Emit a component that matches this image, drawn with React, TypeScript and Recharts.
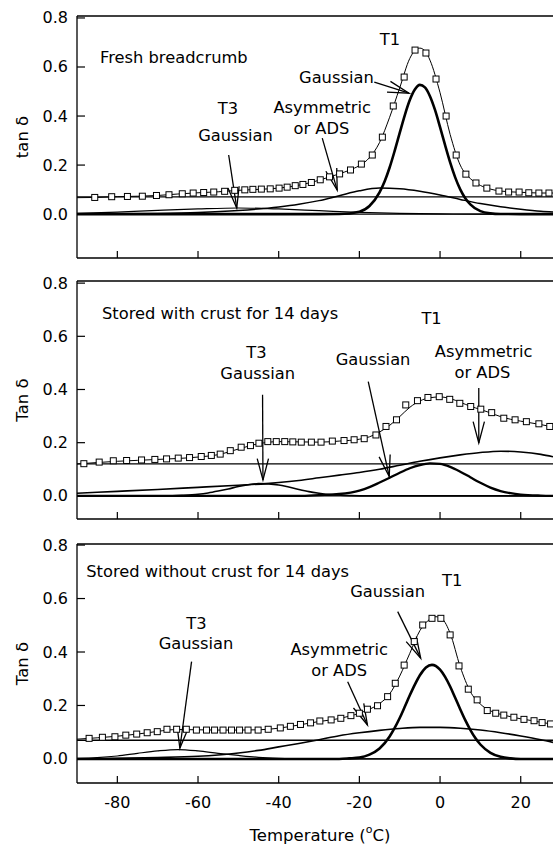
import React from 'react';
import { LineChart, Line, XAxis, YAxis, ReferenceLine, ReferenceDot } from 'recharts';

const FONT = '"DejaVu Sans", "Liberation Sans", Arial, sans-serif';

const xTicks = [-80, -60, -40, -20, 0, 20];
const yTicks = [0, 0.2, 0.4, 0.6, 0.8];

// ---------- Panel 1: Fresh breadcrumb ----------
const p1Data = [
  [-85.6, 0.068], [-81.4, 0.071], [-77.5, 0.072], [-73.8, 0.073], [-70.3, 0.076], [-67.2, 0.079],
  [-63.9, 0.083], [-61.2, 0.086], [-58.6, 0.088], [-56.1, 0.09], [-53.4, 0.093], [-50.9, 0.097],
  [-48.4, 0.099], [-46.4, 0.101], [-44.3, 0.102], [-42.1, 0.103], [-39.9, 0.106], [-37.9, 0.11],
  [-35.9, 0.116], [-34.0, 0.121], [-31.9, 0.129], [-29.7, 0.14], [-27.4, 0.152], [-24.9, 0.164],
  [-22.2, 0.18], [-19.5, 0.204], [-16.8, 0.241], [-14.3, 0.314], [-11.6, 0.441], [-8.9, 0.559],
  [-6.2, 0.669], [-3.5, 0.657], [-1.0, 0.551], [1.5, 0.4], [4.0, 0.241], [6.4, 0.163], [8.9, 0.127],
  [11.6, 0.106], [14.6, 0.094], [17.0, 0.09], [19.6, 0.09], [22.0, 0.087], [24.5, 0.086], [27.0, 0.086],
];
const p1Fit = [
  [-90, 0.067], [-85, 0.068], [-80, 0.071], [-75, 0.073], [-70, 0.076], [-65, 0.082], [-60, 0.087],
  [-55, 0.091], [-50, 0.097], [-45, 0.101], [-40, 0.106], [-37.5, 0.111], [-35, 0.118], [-32.5, 0.127],
  [-30, 0.138], [-27.5, 0.151], [-25, 0.164], [-22.5, 0.179], [-20, 0.198], [-17.5, 0.23], [-15, 0.292],
  [-12.5, 0.395], [-10, 0.515], [-7.5, 0.635], [-6.25, 0.667], [-5, 0.677], [-3.75, 0.666], [-2.5, 0.628],
  [0, 0.495], [2.5, 0.325], [5, 0.2], [7.5, 0.145], [10, 0.117], [12.5, 0.102], [15, 0.094], [20, 0.089],
  [25, 0.086], [28, 0.086],
];
const p1T3 = [
  [-90, 0.003], [-80, 0.008], [-70, 0.015], [-60, 0.021], [-50, 0.025], [-40, 0.021], [-30, 0.014],
  [-20, 0.007], [-10, 0.003], [0, 0.001], [10, 0], [28, 0],
];
const p1Ads = [
  [-90, 0], [-80, 0.001], [-70, 0.003], [-60, 0.007], [-50, 0.015], [-40, 0.029], [-35, 0.04],
  [-30, 0.055], [-25, 0.075], [-20, 0.095], [-15, 0.106], [-10, 0.103], [-5, 0.093], [0, 0.078],
  [5, 0.06], [10, 0.043], [15, 0.03], [20, 0.02], [25, 0.012], [28, 0.009],
];
const p1T1 = [
  [-90, 0], [-30, 0], [-25, 0.0005], [-20, 0.01], [-17.5, 0.033], [-15, 0.089], [-13.75, 0.133],
  [-12.5, 0.19], [-11.25, 0.258], [-10, 0.331], [-8.75, 0.403], [-7.5, 0.465], [-6.25, 0.508],
  [-5, 0.527], [-3.75, 0.517], [-2.5, 0.481], [-1.25, 0.425], [0, 0.355], [1.25, 0.281], [2.5, 0.211],
  [3.75, 0.15], [5, 0.101], [6.25, 0.065], [7.5, 0.04], [10, 0.012], [12.5, 0.003], [15, 0.0006],
  [20, 0], [28, 0],
];
const p1Base = 0.07;

// ---------- Panel 2: Stored with crust ----------
const p2Data = [
  [-88.3, 0.121], [-84.5, 0.127], [-81.0, 0.132], [-77.7, 0.133], [-74.0, 0.135], [-70.7, 0.137],
  [-67.8, 0.139], [-64.9, 0.142], [-62.1, 0.144], [-59.2, 0.148], [-56.7, 0.152], [-54.5, 0.157],
  [-52.0, 0.17], [-49.3, 0.183], [-47.0, 0.189], [-44.9, 0.198], [-42.7, 0.204], [-40.6, 0.204],
  [-38.5, 0.204], [-36.5, 0.203], [-34.4, 0.202], [-31.9, 0.202], [-29.5, 0.202], [-26.7, 0.206],
  [-23.8, 0.208], [-21.3, 0.211], [-18.8, 0.215], [-15.9, 0.229], [-13.4, 0.261], [-10.8, 0.286],
  [-8.5, 0.342], [-5.6, 0.358], [-3.0, 0.37], [-0.2, 0.373], [2.4, 0.363], [4.9, 0.348], [7.6, 0.336],
  [10.1, 0.326], [12.8, 0.313], [15.8, 0.292], [18.6, 0.286], [21.4, 0.279], [24.5, 0.271], [27.2, 0.261],
];
const p2Fit = [
  [-90, 0.12], [-80, 0.13], [-70, 0.137], [-60, 0.146], [-55, 0.155], [-50, 0.176], [-45, 0.196],
  [-40, 0.204], [-35, 0.203], [-30, 0.202], [-25, 0.206], [-20, 0.213], [-17.5, 0.222], [-15, 0.24],
  [-12.5, 0.265], [-10, 0.298], [-7.5, 0.333], [-5, 0.357], [-2.5, 0.369], [0, 0.372], [2.5, 0.366],
  [5, 0.352], [7.5, 0.337], [10, 0.325], [12.5, 0.312], [15, 0.298], [17.5, 0.288], [20, 0.281],
  [25, 0.268], [28, 0.259],
];
const p2T3 = [
  [-90, 0], [-68, 0], [-64, 0.002], [-60, 0.006], [-57.5, 0.011], [-55, 0.018], [-52.5, 0.026],
  [-50, 0.035], [-47.5, 0.042], [-45, 0.046], [-42.5, 0.045], [-40, 0.041], [-37.5, 0.033], [-35, 0.024],
  [-32.5, 0.016], [-30, 0.01], [-27.5, 0.005], [-25, 0.003], [-22, 0.001], [-18, 0], [28, 0],
];
const p2Ads = [
  [-90, 0.01], [-80, 0.017], [-70, 0.024], [-60, 0.032], [-50, 0.04], [-43, 0.046], [-40, 0.05],
  [-35, 0.058], [-30, 0.068], [-25, 0.078], [-20, 0.088], [-15, 0.1], [-10, 0.115], [-5, 0.13],
  [0, 0.143], [5, 0.154], [10, 0.163], [15, 0.168], [20, 0.165], [25, 0.156], [28, 0.147],
];
const p2T1 = [
  [-90, 0], [-35, 0], [-30, 0.003], [-25, 0.007], [-20, 0.02], [-17.5, 0.033], [-15, 0.05],
  [-12.5, 0.068], [-10, 0.087], [-7.5, 0.104], [-5, 0.116], [-2.5, 0.122], [0, 0.12], [2.5, 0.109],
  [5, 0.091], [7.5, 0.07], [10, 0.049], [12.5, 0.031], [15, 0.018], [17.5, 0.01], [20, 0.005],
  [25, 0.001], [28, 0],
];
const p2Base = 0.12;

// ---------- Panel 3: Stored without crust ----------
const p3Data = [
  [-87.0, 0.077], [-83.7, 0.081], [-80.6, 0.083], [-77.9, 0.089], [-75.2, 0.093], [-72.6, 0.098],
  [-70.1, 0.102], [-67.7, 0.111], [-65.3, 0.111], [-62.9, 0.111], [-60.4, 0.108], [-57.9, 0.108],
  [-55.9, 0.108], [-53.8, 0.108], [-51.7, 0.108], [-49.7, 0.108], [-47.6, 0.108], [-45.1, 0.108],
  [-42.6, 0.111], [-39.6, 0.116], [-37.1, 0.122], [-34.6, 0.129], [-32.1, 0.135], [-29.8, 0.142],
  [-27.0, 0.146], [-24.6, 0.152], [-22.1, 0.162], [-20.0, 0.171], [-18.0, 0.186], [-15.5, 0.199],
  [-13.0, 0.233], [-11.1, 0.283], [-8.9, 0.351], [-6.4, 0.439], [-4.3, 0.501], [-2.0, 0.526],
  [0.2, 0.526], [2.5, 0.464], [4.7, 0.348], [7.0, 0.261], [9.2, 0.221], [11.7, 0.181], [13.8, 0.171],
  [15.8, 0.164], [18.3, 0.156], [20.8, 0.148], [23.3, 0.143], [25.3, 0.136], [27.4, 0.131],
];
const p3Fit = [
  [-90, 0.074], [-85, 0.079], [-80, 0.085], [-75, 0.093], [-70, 0.103], [-67.5, 0.108], [-65, 0.11],
  [-60, 0.109], [-55, 0.108], [-50, 0.108], [-45, 0.109], [-42.5, 0.111], [-40, 0.115], [-35, 0.127],
  [-30, 0.14], [-25, 0.151], [-22.5, 0.16], [-20, 0.171], [-17.5, 0.186], [-15, 0.207], [-12.5, 0.243],
  [-10, 0.31], [-7.5, 0.395], [-5, 0.48], [-2.5, 0.523], [-1, 0.532], [0.5, 0.524], [2.5, 0.47],
  [5, 0.345], [7.5, 0.252], [10, 0.205], [12.5, 0.18], [15, 0.167], [17.5, 0.158], [20, 0.15],
  [22.5, 0.144], [25, 0.137], [28, 0.13],
];
const p3T3 = [
  [-90, 0.002], [-85, 0.005], [-80, 0.011], [-75, 0.021], [-70, 0.03], [-65, 0.035], [-60, 0.03],
  [-55, 0.021], [-50, 0.013], [-45, 0.006], [-40, 0.002], [-35, 0], [28, 0],
];
const p3Ads = [
  [-90, 0], [-80, 0.002], [-70, 0.005], [-60, 0.01], [-55, 0.015], [-50, 0.022], [-45, 0.032],
  [-40, 0.045], [-35, 0.058], [-30, 0.072], [-25, 0.087], [-20, 0.098], [-15, 0.107], [-10, 0.114],
  [-5, 0.118], [0, 0.118], [5, 0.115], [10, 0.108], [15, 0.098], [20, 0.086], [25, 0.072], [28, 0.062],
];
const p3T1 = [
  [-90, 0], [-25, 0], [-22.5, 0.002], [-20, 0.005], [-17.5, 0.016], [-15, 0.039], [-12.5, 0.084],
  [-11.25, 0.116], [-10, 0.153], [-8.75, 0.195], [-7.5, 0.238], [-6.25, 0.278], [-5, 0.313],
  [-3.5, 0.342], [-2, 0.352], [0, 0.334], [1.25, 0.307], [2.5, 0.271], [3.75, 0.229], [5, 0.186],
  [6.25, 0.145], [7.5, 0.109], [8.75, 0.078], [10, 0.054], [12.5, 0.023], [15, 0.008], [17.5, 0.002],
  [20, 0], [28, 0],
];
const p3Base = 0.07;

// ---------- types & config ----------
type Ann = { t: number; v: number; text: string; anchor?: 'start' | 'middle' };
type Arrow = { from: [number, number]; to: [number, number] };
type Cfg = {
  top: number;
  bottom: number;
  yDomain: [number, number];
  yLabel: string;
  showXLabels: boolean;
  data: number[][];
  fit: number[][];
  t3: number[][];
  ads: number[][];
  t1: number[][];
  baseline: number;
  widths: { t3: number; ads: number; t1: number };
  texts: Ann[];
  arrows: Arrow[];
};

const panels: Cfg[] = [
  {
    top: 16, bottom: 258, yDomain: [-0.179, 0.808], yLabel: 'tan δ', showXLabels: false,
    data: p1Data, fit: p1Fit, t3: p1T3, ads: p1Ads, t1: p1T1, baseline: p1Base,
    widths: { t3: 1.2, ads: 1.5, t1: 2.6 },
    texts: [
      { t: -84.3, v: 0.639, text: 'Fresh breadcrumb', anchor: 'start' },
      { t: -12.4, v: 0.714, text: 'T1' },
      { t: -25.7, v: 0.559, text: 'Gaussian' },
      { t: -29.2, v: 0.436, text: 'Asymmetric' },
      { t: -29.4, v: 0.351, text: 'or ADS' },
      { t: -52.6, v: 0.432, text: 'T3' },
      { t: -50.7, v: 0.322, text: 'Gaussian' },
    ],
    arrows: [
      { from: [-16.3, 0.538], to: [-7.7, 0.493] },
      { from: [-29.2, 0.31], to: [-25.5, 0.098] },
      { from: [-52.4, 0.241], to: [-50.4, 0.0245] },
    ],
  },
  {
    top: 281, bottom: 519, yDomain: [-0.087, 0.808], yLabel: 'Tan δ', showXLabels: false,
    data: p2Data, fit: p2Fit, t3: p2T3, ads: p2Ads, t1: p2T1, baseline: p2Base,
    widths: { t3: 1.6, ads: 1.6, t1: 2.3 },
    texts: [
      { t: -83.8, v: 0.686, text: 'Stored with crust for 14 days', anchor: 'start' },
      { t: -2.1, v: 0.666, text: 'T1' },
      { t: 10.8, v: 0.543, text: 'Asymmetric' },
      { t: 10.5, v: 0.464, text: 'or ADS' },
      { t: -16.6, v: 0.511, text: 'Gaussian' },
      { t: -45.5, v: 0.54, text: 'T3' },
      { t: -45.2, v: 0.461, text: 'Gaussian' },
    ],
    arrows: [
      { from: [9.6, 0.406], to: [9.6, 0.199] },
      { from: [-17.8, 0.43], to: [-12.6, 0.073] },
      { from: [-44, 0.38], to: [-43.9, 0.06] },
    ],
  },
  {
    top: 544, bottom: 783, yDomain: [-0.09, 0.804], yLabel: 'Tan δ', showXLabels: true,
    data: p3Data, fit: p3Fit, t3: p3T3, ads: p3Ads, t1: p3T1, baseline: p3Base,
    widths: { t3: 1.2, ads: 1.6, t1: 2.6 },
    texts: [
      { t: -87.7, v: 0.701, text: 'Stored without crust for 14 days', anchor: 'start' },
      { t: 3, v: 0.666, text: 'T1' },
      { t: -13, v: 0.627, text: 'Gaussian' },
      { t: -25, v: 0.408, text: 'Asymmetric' },
      { t: -25, v: 0.329, text: 'or ADS' },
      { t: -60.4, v: 0.505, text: 'T3' },
      { t: -60.5, v: 0.43, text: 'Gaussian' },
    ],
    arrows: [
      { from: [-10.5, 0.551], to: [-4.8, 0.377] },
      { from: [-22.9, 0.289], to: [-18, 0.127] },
      { from: [-61.6, 0.364], to: [-64.5, 0.04] },
    ],
  },
];

const toPts = (a: number[][]) => a.map(([t, v]) => ({ t, v }));

const XTick = (p: any) => {
  const { x, y, payload, show } = p;
  return (
    <g>
      <line x1={x} y1={y} x2={x} y2={y - 7} stroke="#000" strokeWidth={1.2} />
      {show && (
        <text x={x} y={y + 19} textAnchor="middle" dominantBaseline="central" fontFamily={FONT} fontSize={16} fill="#000">
          {String(payload.value)}
        </text>
      )}
    </g>
  );
};

const YTick = (p: any) => {
  const { x, y, payload } = p;
  return (
    <g>
      <line x1={x + 9} y1={y} x2={x + 17} y2={y} stroke="#000" strokeWidth={1.2} />
      <text x={x} y={y} textAnchor="end" dominantBaseline="central" fontFamily={FONT} fontSize={16} fill="#000">
        {Number(payload.value).toFixed(1)}
      </text>
    </g>
  );
};

const arrowShape = (p: any) => {
  const { x1, y1, x2, y2 } = p;
  const ang = Math.atan2(y2 - y1, x2 - x1);
  const L = 22;
  const A = 0.26;
  const ax = x2 - L * Math.cos(ang - A);
  const ay = y2 - L * Math.sin(ang - A);
  const bx = x2 - L * Math.cos(ang + A);
  const by = y2 - L * Math.sin(ang + A);
  return (
    <g>
      <line x1={x1} y1={y1} x2={x2} y2={y2} stroke="#000" strokeWidth={1.3} />
      <polyline points={`${ax},${ay} ${x2},${y2} ${bx},${by}`} fill="none" stroke="#000" strokeWidth={1.3} />
    </g>
  );
};

const squareDot = (p: any) => {
  const { cx, cy, index } = p;
  if (cx == null || cy == null) return <g key={`s${index}`} />;
  return <rect key={`s${index}`} x={cx - 3} y={cy - 3} width={6} height={6} fill="#fff" stroke="#000" strokeWidth={1} />;
};

function Panel({ cfg }: { cfg: Cfg }) {
  const plotH = cfg.bottom - cfg.top;
  const divTop = cfg.top - 10;
  const H = cfg.showXLabels ? 844 - divTop : plotH + 60;
  const bottomMargin = H - 10 - plotH - 40;

  const YLabel = (props: any) => {
    const vb = props.viewBox || { y: 10, height: plotH };
    const cy = vb.y + vb.height / 2;
    return (
      <text x={22} y={cy} transform={`rotate(-90 22 ${cy})`} textAnchor="middle" dominantBaseline="central"
        fontFamily={FONT} fontSize={16.5} fill="#000">
        {cfg.yLabel}
      </text>
    );
  };
  const XTitle = (props: any) => {
    const vb = props.viewBox || { y: 10 + plotH };
    return (
      <text x={320} y={vb.y + 52} textAnchor="middle" dominantBaseline="central" fontFamily={FONT} fontSize={16.5} fill="#000">
        Temperature (<tspan dy={-6} fontSize={11}>o</tspan><tspan dy={6}>C)</tspan>
      </text>
    );
  };

  return (
    <div style={{ position: 'absolute', left: 0, top: divTop }}>
      <LineChart width={553} height={H} margin={{ top: 10, right: 0, bottom: bottomMargin, left: 0 }}>
        <XAxis
          type="number"
          dataKey="t"
          domain={[-90, 28]}
          ticks={xTicks}
          interval={0}
          allowDataOverflow
          height={40}
          tickSize={0}
          tickMargin={0}
          tickLine={false}
          axisLine={{ stroke: '#000', strokeWidth: 1.3 }}
          tick={(p: any) => <XTick {...p} show={cfg.showXLabels} />}
          label={cfg.showXLabels ? { content: XTitle } : undefined}
        />
        <YAxis
          type="number"
          domain={cfg.yDomain}
          ticks={yTicks}
          interval={0}
          allowDataOverflow
          width={77}
          tickSize={0}
          tickMargin={9}
          tickLine={false}
          axisLine={{ stroke: '#000', strokeWidth: 1.3 }}
          tick={(p: any) => <YTick {...p} />}
          label={{ content: YLabel }}
        />
        <ReferenceLine y={cfg.yDomain[1]} stroke="#000" strokeWidth={1.3} />
        <ReferenceLine y={cfg.baseline} stroke="#000" strokeWidth={1.3} />
        <ReferenceLine y={0} stroke="#000" strokeWidth={1.3} />
        <Line data={toPts(cfg.fit)} dataKey="v" type="monotone" stroke="#000" strokeWidth={1} dot={false} activeDot={false} isAnimationActive={false} />
        <Line data={toPts(cfg.t3)} dataKey="v" type="monotone" stroke="#000" strokeWidth={cfg.widths.t3} dot={false} activeDot={false} isAnimationActive={false} />
        <Line data={toPts(cfg.ads)} dataKey="v" type="monotone" stroke="#000" strokeWidth={cfg.widths.ads} dot={false} activeDot={false} isAnimationActive={false} />
        <Line data={toPts(cfg.t1)} dataKey="v" type="monotone" stroke="#000" strokeWidth={cfg.widths.t1} dot={false} activeDot={false} isAnimationActive={false} />
        <Line data={toPts(cfg.data)} dataKey="v" stroke="none" dot={squareDot} activeDot={false} isAnimationActive={false} />
        {cfg.arrows.map((a, i) => (
          <ReferenceLine
            key={`a${i}`}
            segment={[{ x: a.from[0], y: a.from[1] }, { x: a.to[0], y: a.to[1] }]}
            shape={arrowShape}
            stroke="#000"
          />
        ))}
        {cfg.texts.map((tx, i) => (
          <ReferenceDot
            key={`t${i}`}
            x={tx.t}
            y={tx.v}
            r={1}
            shape={(p: any) => (
              <text x={p.cx} y={p.cy} textAnchor={tx.anchor || 'middle'} dominantBaseline="central"
                fontFamily={FONT} fontSize={16.3} fill="#000">
                {tx.text}
              </text>
            )}
          />
        ))}
      </LineChart>
    </div>
  );
}

export default function App() {
  return (
    <div style={{ position: 'absolute', left: 0, top: 0, width: 553, height: 844, background: '#fff' }}>
      {panels.map((cfg, i) => (
        <Panel key={i} cfg={cfg} />
      ))}
    </div>
  );
}
